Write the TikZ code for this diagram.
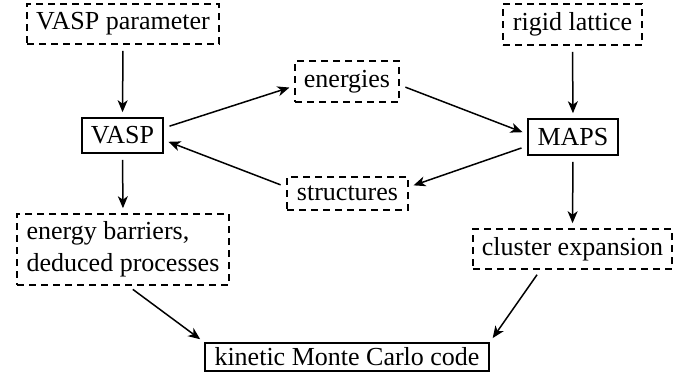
\documentclass[tikz,border=0pt]{standalone}
\usepackage{fontspec}
\setmainfont{Liberation Serif}
\usetikzlibrary{arrows.meta}
\tikzset{
  basebox/.style={draw, line width=1.6pt, inner sep=0pt, align=center,
    font=\fontsize{26}{32}\selectfont},
  dbox/.style={basebox, dash pattern=on 7pt off 5pt},
  sbox/.style={basebox},
  arr/.style={-{Stealth[length=12pt,width=10pt,inset=3.5pt]}, line width=1.5pt,
    shorten <=6pt, shorten >=5pt}
}
\begin{document}
\begin{tikzpicture}[x=1pt,y=-1pt]
\useasboundingbox (0,0) rectangle (697,386);
\node[dbox, minimum width=192, minimum height=40] (vp) at (123,24) {VASP parameter};
\node[sbox, minimum width=81, minimum height=35] (vasp) at (122.5,135.5) {VASP};
\node[dbox, minimum width=104, minimum height=41] (en) at (347,81.5) {energies};
\node[dbox, minimum width=121, minimum height=33] (st) at (347.5,193.5) {structures};
\node[dbox, minimum width=139, minimum height=41] (rl) at (572.5,24.5) {rigid lattice};
\node[sbox, minimum width=90, minimum height=36] (maps) at (573,137) {MAPS};
\node[dbox, minimum width=199, minimum height=40] (ce) at (572.5,249) {cluster expansion};
\node[dbox, minimum width=212, minimum height=71, align=left] (eb) at (123,249.5) {energy barriers,\\deduced processes};
\node[sbox, minimum width=284, minimum height=28] (kmc) at (347,357) {kinetic Monte Carlo code};

\draw[arr] (vp.south) -- (vasp.north);
\draw[arr] (rl.south) -- (maps.north);
\draw[arr] (vasp.south) -- (eb.north);
\draw[arr] (maps.south) -- (ce.north);
\draw[arr] ([yshift=7.5pt]vasp.east) -- ([yshift=-4.5pt]en.west);
\draw[arr] ([yshift=-3.5pt]en.east) -- ([yshift=3pt]maps.west);
\draw[arr] ([yshift=-9pt]maps.west) -- ([yshift=6.5pt]st.east);
\draw[arr] ([yshift=6.5pt]st.west) -- ([yshift=-4.5pt]vasp.east);
\draw[arr] ([xshift=5pt]eb.south) -- (kmc.north west);
\draw[arr] ([xshift=-32pt]ce.south) -- (kmc.north east);
\end{tikzpicture}
\end{document}
